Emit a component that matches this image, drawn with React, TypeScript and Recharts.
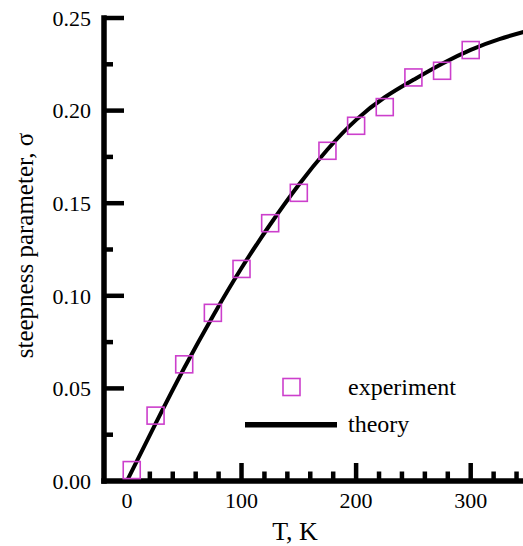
import { ComposedChart, Scatter, Line, XAxis, YAxis, Legend } from 'recharts'

// measured steepness parameter vs temperature
const expT = [4.2, 25, 50, 75, 100, 125, 150, 175, 200, 225, 250, 275, 300]
const expSigma = [0.0059, 0.0353, 0.063, 0.0908, 0.1145, 0.1392, 0.1556, 0.1783, 0.1918, 0.2019, 0.2179, 0.2215, 0.2327]

// model curve
const theoryT = [0, 25, 50, 75, 100, 125, 150, 175, 200, 225, 250, 275, 300, 325, 350]
const theorySigma = [0, 0.031, 0.061, 0.089, 0.115, 0.1385, 0.16, 0.179, 0.195, 0.2072, 0.2166, 0.2253, 0.2328, 0.2386, 0.2431]

const xTicks = [0, 20, 40, 60, 80, 100, 120, 140, 160, 180, 200, 220, 240, 260, 280, 300, 320, 340]
const xLabels = [0, 100, 200, 300]
const yTicks = [0, 0.025, 0.05, 0.075, 0.1, 0.125, 0.15, 0.175, 0.2, 0.225, 0.25]
const yLabels = [0, 0.05, 0.1, 0.15, 0.2, 0.25]

const expData = expT.map((t, i) => ({ t, sigma: expSigma[i] }))
const theoryData = theoryT.map((t, i) => ({ t, sigma: theorySigma[i] }))

const FONT = '"Liberation Serif", "Times New Roman", serif'
const MAGENTA = '#cc3fcc'

const isLabel = (list: number[], v: number) => list.some((l) => Math.abs(l - v) < 1e-9)

const XTick = ({ x, y, payload }: any) => {
  const v = payload.value
  const major = isLabel(xLabels, v)
  return (
    <g>
      {v !== 0 && (
        <line x1={x} x2={x} y1={y} y2={y - (major ? 18 : 9.5)} stroke="#000" strokeWidth={4.5} />
      )}
      {major && (
        <text x={x} y={y + 27} textAnchor="middle" fontSize={22} fontFamily={FONT} fill="#000">
          {v}
        </text>
      )}
    </g>
  )
}

const YTick = ({ x, y, payload }: any) => {
  const v = payload.value
  const major = isLabel(yLabels, v)
  return (
    <g>
      {v !== 0 && (
        <line x1={x} x2={x + (major ? 20 : 9)} y1={y} y2={y} stroke="#000" strokeWidth={4.5} />
      )}
      {major && (
        <text x={x - 13} y={y} dy="0.35em" textAnchor="end" fontSize={22} fontFamily={FONT} fill="#000">
          {v.toFixed(2)}
        </text>
      )}
    </g>
  )
}

const SquareDot = ({ cx, cy }: any) => (
  <rect x={cx - 8.5} y={cy - 8.5} width={17} height={17} fill="none" stroke={MAGENTA} strokeWidth={1.6} />
)

const LegendBox = () => (
  <svg width={240} height={75} style={{ display: 'block' }}>
    <rect x={38} y={8.5} width={17} height={17} fill="none" stroke={MAGENTA} strokeWidth={1.6} />
    <text x={103} y={24.5} fontSize={24} fontFamily={FONT} fill="#000">experiment</text>
    <line x1={0} x2={92} y1={54.7} y2={54.7} stroke="#000" strokeWidth={5.5} />
    <text x={103} y={62} fontSize={24} fontFamily={FONT} fill="#000">theory</text>
  </svg>
)

export default function App() {
  return (
    <div style={{ position: 'absolute', left: 0, top: 0, width: 523, height: 546, overflow: 'hidden', background: '#fff' }}>
      <ComposedChart width={530} height={546} margin={{ top: 18, right: 2, bottom: 0, left: 0 }}>
        <XAxis
          type="number"
          dataKey="t"
          domain={[-20, 350]}
          allowDataOverflow
          ticks={xTicks}
          interval={0}
          tick={<XTick />}
          tickLine={false}
          tickSize={0}
          tickMargin={0}
          height={65}
          axisLine={{ stroke: '#000', strokeWidth: 5.5, strokeLinecap: 'square' }}
          label={(p: any) => {
            const vb = p.viewBox
            return (
              <text x={vb.x + vb.width / 2 - 21} y={vb.y + vb.height - 6} textAnchor="middle" fontSize={26} fontFamily={FONT} fill="#000">
                T, K
              </text>
            )
          }}
        />
        <YAxis
          type="number"
          dataKey="sigma"
          domain={[0, 0.25]}
          allowDataOverflow
          ticks={yTicks}
          interval={0}
          tick={<YTick />}
          tickLine={false}
          tickSize={0}
          tickMargin={0}
          width={104}
          axisLine={{ stroke: '#000', strokeWidth: 5.5, strokeLinecap: 'square' }}
          label={(p: any) => {
            const vb = p.viewBox
            const cx = vb.x + 24
            const cy = vb.y + vb.height / 2 - 4
            return (
              <text x={cx} y={cy} dy="0.35em" transform={`rotate(-90 ${cx} ${cy})`} textAnchor="middle" fontSize={25} fontFamily={FONT} fill="#000">
                steepness parameter, σ
              </text>
            )
          }}
        />
        <Legend
          layout="vertical"
          align="center"
          verticalAlign="middle"
          wrapperStyle={{ left: 245, top: 370, width: 240 }}
          content={() => <LegendBox />}
        />
        <Line
          name="theory"
          data={theoryData}
          dataKey="sigma"
          type="natural"
          stroke="#000"
          strokeWidth={4}
          dot={false}
          activeDot={false}
          isAnimationActive={false}
        />
        <Scatter
          name="experiment"
          data={expData}
          dataKey="sigma"
          shape={<SquareDot />}
          isAnimationActive={false}
        />
      </ComposedChart>
    </div>
  )
}
